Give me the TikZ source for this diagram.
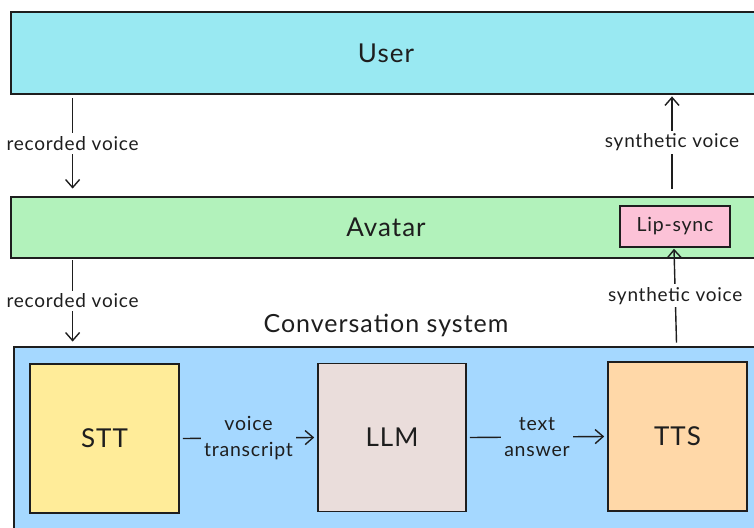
\documentclass[tikz,border=0pt]{standalone}
\usepackage{fontspec}
\setmainfont{Lato}[LetterSpace=4]
\usetikzlibrary{arrows.meta}
\definecolor{userc}{HTML}{99E9F2}
\definecolor{avatarc}{HTML}{B2F2BB}
\definecolor{lipc}{HTML}{FCC2D7}
\definecolor{convc}{HTML}{A5D8FF}
\definecolor{sttc}{HTML}{FFEC99}
\definecolor{llmc}{HTML}{EADDDB}
\definecolor{ttsc}{HTML}{FFD8A8}
\definecolor{inkc}{HTML}{1E1E1E}
\tikzset{
  bigbox/.style={draw=inkc, line width=2.8pt, inner sep=0pt, font=\fontsize{26}{30}\selectfont, text=inkc},
  smallbox/.style={draw=inkc, line width=1.6pt, inner sep=0pt, font=\fontsize{26}{30}\selectfont, text=inkc},
  arr/.style={draw=inkc, line width=1.4pt, -{Straight Barb[length=8pt,width=14pt,line width=1.4pt]}},
  lbl/.style={font=\fontsize{19}{24}\selectfont, text=inkc, inner sep=3pt, align=center},
}
\begin{document}
\begin{tikzpicture}[x=1pt,y=-1pt]
\useasboundingbox (0,0) rectangle (754,527);
\clip (0,0) rectangle (754,527);
\fill[white] (0,0) rectangle (754,527);
\node[bigbox, fill=userc, minimum width=750pt, minimum height=82pt] (user) at (386,53) {User};
\node[bigbox, fill=avatarc, minimum width=750pt, minimum height=61pt] (avatar) at (386,227.5) {Avatar};
\node[smallbox, fill=lipc, minimum width=110pt, minimum height=41pt, font=\fontsize{19.5}{22}\selectfont] (lip) at (675,226.5) {Lip-sync};
\node[bigbox, fill=convc, minimum width=744pt, minimum height=200pt] (conv) at (386,447) {};
\node[font=\fontsize{25}{28}\selectfont, text=inkc] (convlabel) at (386,325) {Conversation system};
\node[smallbox, fill=sttc, minimum width=149pt, minimum height=149pt] (stt) at (104.5,438.5) {STT};
\node[smallbox, fill=llmc, minimum width=148pt, minimum height=148pt] (llm) at (392,437.5) {LLM};
\node[smallbox, fill=ttsc, minimum width=139pt, minimum height=149pt] (tts) at (677.5,436.5) {TTS};
% user -> avatar
\draw[arr] ([xshift=63pt,yshift=-3pt]user.south west) -- node[lbl, fill=white]{recorded voice} ([xshift=63pt,yshift=7pt]avatar.north west);
\draw[arr] ([xshift=-3pt,yshift=7pt]lip.north |- avatar.north) -- node[lbl, fill=white]{synthetic voice} ([xshift=-3pt,yshift=-1pt]lip.north |- user.south);
% avatar -> conversation
\draw[arr] ([xshift=63pt,yshift=-1pt]avatar.south west) -- node[lbl, fill=white]{recorded voice} ([xshift=60pt,yshift=4pt]conv.north west);
\draw[arr] ([xshift=-1pt,yshift=3pt]tts.north |- conv.north) -- node[lbl, fill=white]{synthetic voice} ([xshift=-1pt,yshift=-1pt]lip.south);
% internal
\draw[arr] ([xshift=3pt]stt.east) -- node[lbl, fill=convc, font=\fontsize{19.5}{26}\selectfont]{voice\\transcript} ([xshift=-3pt]llm.west);
\draw[arr] ([xshift=3pt]llm.east) -- node[lbl, fill=convc, font=\fontsize{19.5}{26}\selectfont]{text\\answer} ([xshift=-3pt]tts.west);
\end{tikzpicture}
\end{document}
